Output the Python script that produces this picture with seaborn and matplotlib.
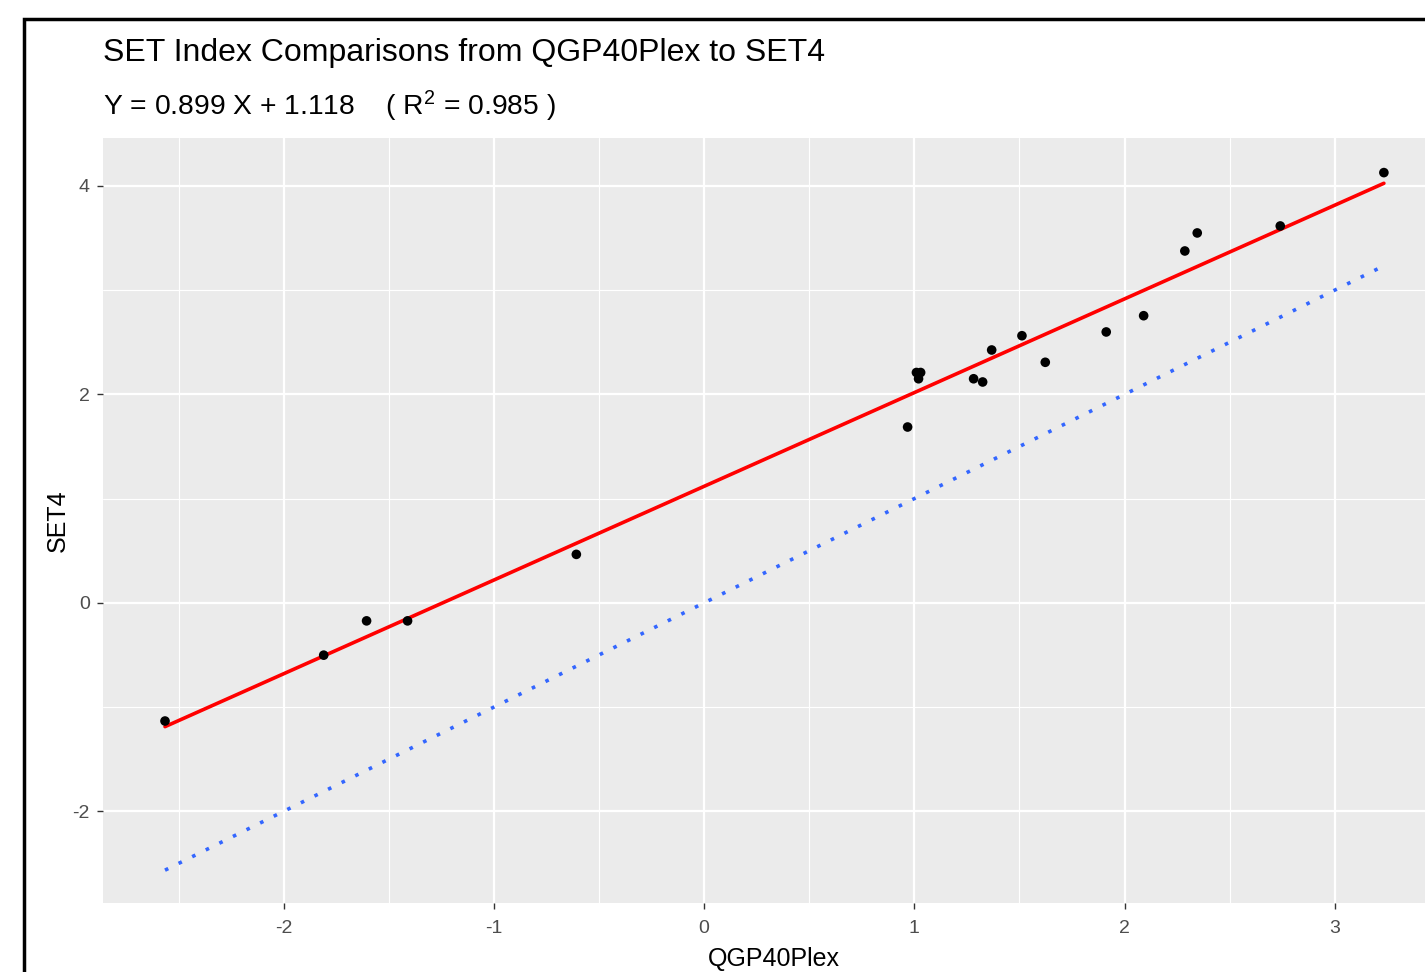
import numpy as np
import pandas as pd
import matplotlib
matplotlib.use("Agg")
import matplotlib.pyplot as plt
from matplotlib.patches import Rectangle
import seaborn as sns

# ---- data ----
qgp40plex = [-2.565, -1.81, -1.606, -1.411, -0.608, 0.968, 1.01, 1.03, 1.02,
             1.282, 1.325, 1.368, 1.512, 1.623, 1.913, 2.091, 2.287, 2.346,
             2.741, 3.234]
set4 = [-1.134, -0.502, -0.173, -0.173, 0.465, 1.687, 2.21, 2.21, 2.15,
        2.150, 2.119, 2.426, 2.563, 2.308, 2.599, 2.755, 3.376, 3.549,
        3.616, 4.128]
fit_slope = 0.899
fit_intercept = 1.118
r_squared = 0.985
x_ticks = [-2, -1, 0, 1, 2, 3]
y_ticks = [-2, 0, 2, 4]
title_text = "SET Index Comparisons from QGP40Plex to SET4"
x_label = "QGP40Plex"
y_label = "SET4"

df = pd.DataFrame({"QGP40Plex": qgp40plex, "SET4": set4})
line_x = np.array([min(qgp40plex), max(qgp40plex)])
fit_df = pd.DataFrame({"x": line_x, "y": fit_slope * line_x + fit_intercept})
id_df = pd.DataFrame({"x": line_x, "y": line_x})

sns.set_theme(style="darkgrid")
plt.rcParams["font.family"] = ["Liberation Sans", "DejaVu Sans"]
plt.rcParams["mathtext.fontset"] = "custom"
plt.rcParams["mathtext.rm"] = "Liberation Sans"
plt.rcParams["mathtext.default"] = "regular"
plt.rcParams["axes.unicode_minus"] = False

W, H = 1425, 972
fig = plt.figure(figsize=(W / 100, H / 100), dpi=100)
fig.patch.set_facecolor("white")

left_px, right_px, top_px, bottom_px = 103, 1444, 138, 903
ax = fig.add_axes([left_px / W, 1 - bottom_px / H,
                   (right_px - left_px) / W, (bottom_px - top_px) / H])
ax.set_facecolor("#EBEBEB")

# lines and points
sns.lineplot(data=id_df, x="x", y="y", ax=ax, color="#3366FF", lw=2.6,
             linestyle=(0, (1.0, 3.2)), zorder=3)
sns.lineplot(data=fit_df, x="x", y="y", ax=ax, color="#FF0000", lw=2.6, zorder=4)
sns.scatterplot(data=df, x="QGP40Plex", y="SET4", ax=ax, color="black",
                s=48, edgecolor="none", zorder=5)

ax.set_xlim(-2.86, 3.52)
ax.set_ylim(-2.88, 4.46)
ax.set_xticks(x_ticks)
ax.set_yticks(y_ticks)
ax.set_xticks([-2.5, -1.5, -0.5, 0.5, 1.5, 2.5], minor=True)
ax.set_yticks([-1, 1, 3], minor=True)
ax.grid(which="major", color="white", lw=1.6)
ax.grid(which="minor", color="white", lw=0.8)
ax.set_axisbelow(True)
for s in ax.spines.values():
    s.set_visible(False)
ax.tick_params(axis="both", which="major", length=4.5, width=1.0, color="#333333",
               labelcolor="#4D4D4D", labelsize=14, direction="out",
               bottom=True, left=True)
ax.tick_params(axis="x", which="major", pad=8)
ax.tick_params(axis="y", which="major", pad=5)
ax.tick_params(which="minor", length=0)

ax.set_xlabel(x_label, fontsize=18, color="black", labelpad=7)
ax.set_ylabel(y_label, fontsize=18, color="black", labelpad=2)

fig.text(left_px / W, 1 - 38 / H, title_text, fontsize=23, ha="left", va="top",
         color="black")
fig.text(left_px / W, 1 - 89 / H,
         f"Y = {fit_slope:.3f} X + {fit_intercept:.3f}    ( R$^2$ = {r_squared:.3f} )",
         fontsize=20.3, ha="left", va="top", color="black")

fig.add_artist(Rectangle((23.5 / W, -0.1), 1.2, 1.1 - 19.5 / H + 0.0,
                         transform=fig.transFigure, fill=False, lw=2.5,
                         ec="black", zorder=10))

fig.savefig("out.png", dpi=100)
